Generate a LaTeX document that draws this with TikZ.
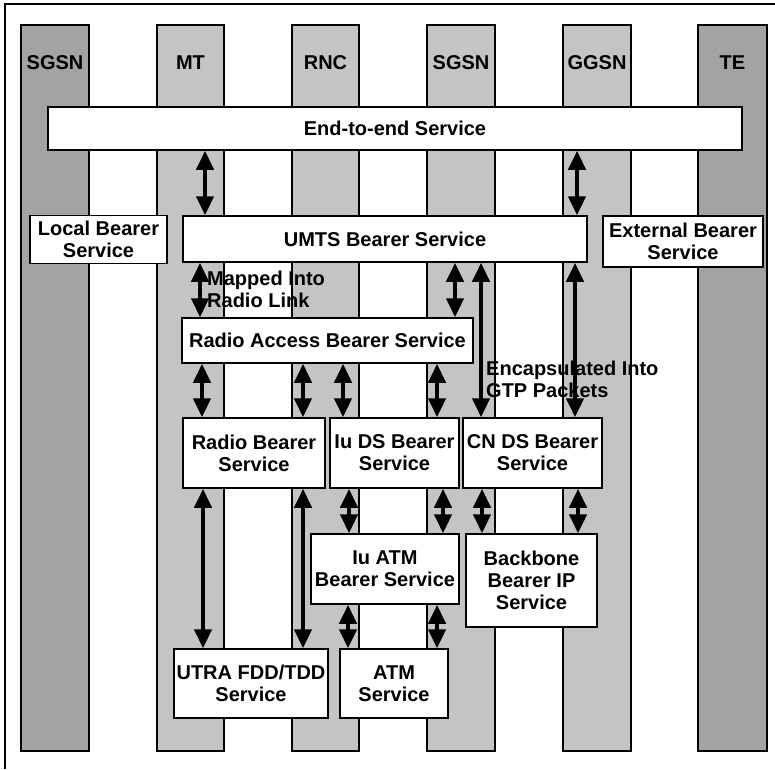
\documentclass[tikz,border=0pt]{standalone}
\usepackage{fontspec}
\setsansfont{Liberation Sans}
\usetikzlibrary{arrows.meta}

\tikzset{
  lane/.style={draw=black, line width=1.2pt, fill=black!23},
  laneout/.style={lane, fill=black!36},
  svc/.style={draw=black, line width=1.5pt, fill=white, align=center, inner sep=0pt,
    font=\sffamily\bfseries\fontsize{20}{22}\selectfont},
  lbl/.style={font=\sffamily\bfseries\fontsize{20}{22}\selectfont, align=left, inner sep=0pt},
  dbl/.style={line width=4.5pt, {Triangle[width=17pt,length=19pt]}-{Triangle[width=17pt,length=19pt]}}
}

\begin{document}
\begin{tikzpicture}[x=1pt,y=-1pt]

  \useasboundingbox (0,0) rectangle (775,769);

  % Frame
  \draw[line width=1.2pt] (5,769) -- (5,4) -- (775,4);

  % Lanes
  \draw[laneout] (21,25) rectangle (89,751);
  \draw[lane] (157,25) rectangle (224,751);
  \draw[lane] (292,25) rectangle (359,751);
  \draw[lane] (427,25) rectangle (495,751);
  \draw[lane] (563,25) rectangle (631,751);
  \draw[laneout] (698,25) rectangle (767,751);

  \node[lbl] (sgsnA) at (55,63) {SGSN};
  \node[lbl] (mt) at (190.5,63) {MT};
  \node[lbl] (rnc) at (325.5,63) {RNC};
  \node[lbl] (sgsnB) at (461,63) {SGSN};
  \node[lbl] (ggsn) at (597,63) {GGSN};
  \node[lbl] (te) at (732.5,63) {TE};

  % Services
  \node[svc, minimum width=694, minimum height=43] (e2e) at (395,128.5) {End-to-end Service};
  \node[svc, minimum width=137, minimum height=48] (local) at (98.5,239.5) {Local Bearer\\Service};
  \node[svc, minimum width=404, minimum height=46] (umts) at (385,239) {UMTS Bearer Service};
  \node[svc, minimum width=160, minimum height=51] (ext) at (683,241.5) {External Bearer\\Service};
  \node[svc, minimum width=291, minimum height=45] (rab) at (327.5,340.5) {Radio Access Bearer Service};
  \node[svc, minimum width=142, minimum height=70] (rb) at (254,453) {Radio Bearer\\Service};
  \node[svc, minimum width=129, minimum height=70] (iuds) at (394.5,453) {Iu DS Bearer\\Service};
  \node[svc, minimum width=139, minimum height=70] (cnds) at (532.5,453) {CN DS Bearer\\Service};
  \node[svc, minimum width=148, minimum height=70] (iuatm) at (385,569) {Iu ATM\\Bearer Service};
  \node[svc, minimum width=131, minimum height=93] (backbone) at (531.5,580.5) {Backbone\\Bearer IP\\Service};
  \node[svc, minimum width=154, minimum height=69] (utra) at (251,683.5) {UTRA FDD/TDD\\Service};
  \node[svc, minimum width=108, minimum height=69] (atm) at (394,683.5) {ATM\\Service};

  % Bearer links
  \draw[dbl] (e2e.south -| 205,0) -- (umts.north -| 205,0);
  \draw[dbl] (e2e.south -| 577,0) -- (umts.north -| 577,0);
  \draw[dbl] (umts.south -| 200,0) -- (rab.north -| 200,0);
  \draw[dbl] (umts.south -| 455,0) -- (rab.north -| 455,0);
  \draw[dbl] (umts.south -| 481,0) -- (cnds.north -| 481,0);
  \draw[dbl] (umts.south -| 575,0) -- (cnds.north -| 575,0);
  \draw[dbl] (rab.south -| 202,0) -- (rb.north -| 202,0);
  \draw[dbl] (rab.south -| 303,0) -- (rb.north -| 303,0);
  \draw[dbl] (rab.south -| 343,0) -- (iuds.north -| 343,0);
  \draw[dbl] (rab.south -| 437,0) -- (iuds.north -| 437,0);
  \draw[dbl] (rb.south -| 203,0) -- (utra.north -| 203,0);
  \draw[dbl] (rb.south -| 303,0) -- (utra.north -| 303,0);
  \draw[dbl] (iuds.south -| 349,0) -- (iuatm.north -| 349,0);
  \draw[dbl] (iuds.south -| 443,0) -- (iuatm.north -| 443,0);
  \draw[dbl] (cnds.south -| 482,0) -- (backbone.north -| 482,0);
  \draw[dbl] (cnds.south -| 578,0) -- (backbone.north -| 578,0);
  \draw[dbl] (iuatm.south -| 348,0) -- (atm.north -| 348,0);
  \draw[dbl] (iuatm.south -| 437,0) -- (atm.north -| 437,0);

  % Notes
  \node[lbl, anchor=west] (mapped) at (207,289) {Mapped Into\\Radio Link};
  \node[lbl, anchor=west] (encap) at (486,379) {Encapsulated Into\\GTP Packets};

\end{tikzpicture}
\end{document}
